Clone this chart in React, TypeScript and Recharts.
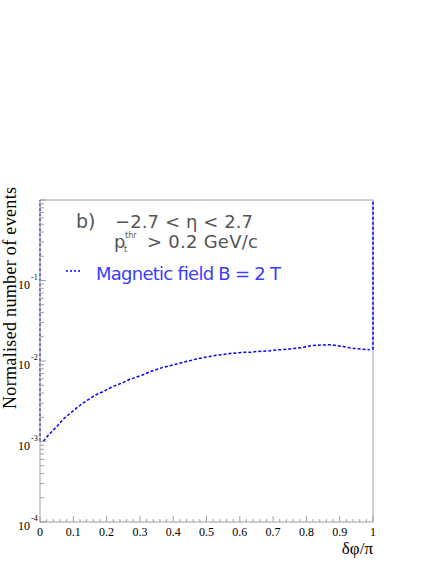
import { LineChart, Line, XAxis, YAxis, ReferenceLine } from "recharts";

// bin centres of the delta-phi/pi histogram (50 bins)
const binCenters = [
  0.01, 0.03, 0.05, 0.07, 0.09, 0.11, 0.13, 0.15, 0.17, 0.19,
  0.21, 0.23, 0.25, 0.27, 0.29, 0.31, 0.33, 0.35, 0.37, 0.39,
  0.41, 0.43, 0.45, 0.47, 0.49, 0.51, 0.53, 0.55, 0.57, 0.59,
  0.61, 0.63, 0.65, 0.67, 0.69, 0.71, 0.73, 0.75, 0.77, 0.79,
  0.81, 0.83, 0.85, 0.87, 0.89, 0.91, 0.93, 0.95, 0.97, 0.99,
];

// normalised number of events, B = 2 T
const events = [
  0.00101, 0.00126, 0.00153, 0.0019, 0.00223, 0.00261, 0.00301, 0.00342, 0.00384, 0.00418,
  0.00462, 0.00503, 0.00541, 0.00593, 0.00633, 0.00676, 0.00736, 0.00784, 0.00835, 0.00874,
  0.00918, 0.00964, 0.0101, 0.0106, 0.011, 0.0114, 0.0118, 0.012, 0.0124, 0.0126,
  0.0128, 0.0128, 0.0131, 0.0132, 0.0134, 0.0137, 0.0139, 0.0141, 0.0144, 0.0147,
  0.0154, 0.0157, 0.0158, 0.0159, 0.0156, 0.0151, 0.0146, 0.0142, 0.014, 0.0138,
];

const xTicks = [
  0, 0.02, 0.04, 0.06, 0.08, 0.1, 0.12, 0.14, 0.16, 0.18, 0.2, 0.22, 0.24, 0.26, 0.28, 0.3,
  0.32, 0.34, 0.36, 0.38, 0.4, 0.42, 0.44, 0.46, 0.48, 0.5, 0.52, 0.54, 0.56, 0.58, 0.6,
  0.62, 0.64, 0.66, 0.68, 0.7, 0.72, 0.74, 0.76, 0.78, 0.8, 0.82, 0.84, 0.86, 0.88, 0.9,
  0.92, 0.94, 0.96, 0.98, 1,
];
const yDecades = [1e-4, 1e-3, 1e-2, 1e-1, 1];
const yMinorSteps = [2, 3, 4, 5, 6, 7, 8, 9];
const yTicks = yDecades.flatMap((d, i) =>
  i < yDecades.length - 1 ? [d, ...yMinorSteps.map((m) => m * d)] : [d]
);

const axisGray = "#a0a0a0";
const serif = "'Liberation Serif', 'DejaVu Serif', serif";
const sans = "'DejaVu Sans', sans-serif";
const textGray = "#555555";
const blue = "#0000ff";

const data = binCenters.map((x, i) => ({ x, events: events[i] }));

function YTick(props: any) {
  const { x, y, payload } = props;
  const v = payload.value as number;
  const lg = Math.log10(v);
  const exp = Math.round(lg);
  const major = Math.abs(lg - exp) < 1e-6;
  return (
    <g>
      <line x1={x} x2={x + (major ? 6 : 4)} y1={y} y2={y} stroke={axisGray} />
      {major && exp < 0 && (
        <>
          <text x={x - 10} y={y + 8} textAnchor="end" fontFamily={serif} fontSize={12} fill="#000">
            10
          </text>
          <text x={x - 9} y={y - 1} fontFamily={serif} fontSize={8} fill="#000">
            {String(exp)}
          </text>
        </>
      )}
    </g>
  );
}

function XTick(props: any) {
  const { x, y, payload } = props;
  const v = payload.value as number;
  const major = Math.abs(v * 10 - Math.round(v * 10)) < 1e-6;
  return (
    <g>
      <line x1={x} x2={x} y1={y} y2={y - (major ? 6 : 3)} stroke={axisGray} />
      {major && (
        <text x={x} y={y + 14} textAnchor="middle" fontFamily={serif} fontSize={12} fill="#000">
          {String(Math.round(v * 10) / 10)}
        </text>
      )}
    </g>
  );
}

export default function App() {
  return (
    <div style={{ position: "absolute", left: 0, top: 0, width: 436, height: 564, background: "#fff" }}>
      <LineChart
        width={436}
        height={564}
        data={data}
        margin={{ top: 200, right: 63, bottom: 0, left: 0 }}
      >
        <XAxis
          dataKey="x"
          type="number"
          domain={[0, 1]}
          ticks={xTicks}
          interval={0}
          tickSize={0}
          tickMargin={0}
          height={42}
          stroke={axisGray}
          tick={<XTick />}
          allowDataOverflow
        />
        <YAxis
          type="number"
          scale="log"
          domain={[1e-4, 1]}
          ticks={yTicks}
          interval={0}
          tickSize={0}
          tickMargin={0}
          width={40}
          stroke={axisGray}
          tick={<YTick />}
          allowDataOverflow
        />
        <ReferenceLine y={1} stroke={axisGray} />
        <ReferenceLine x={1} stroke={axisGray} />
        <ReferenceLine
          segment={[{ x: 0, y: events[0] }, { x: 0, y: 1 }]}
          stroke={blue}
          strokeWidth={1.5}
          strokeDasharray="3 2"
        />
        <ReferenceLine
          segment={[{ x: 1, y: events[events.length - 1] }, { x: 1, y: 1 }]}
          stroke={blue}
          strokeWidth={1.5}
          strokeDasharray="3 2"
        />
        <Line
          dataKey="events"
          type="linear"
          stroke={blue}
          strokeWidth={1.5}
          strokeDasharray="3 2"
          dot={false}
          isAnimationActive={false}
        />
      </LineChart>
      <svg
        width={436}
        height={564}
        style={{ position: "absolute", left: 0, top: 0, pointerEvents: "none" }}
      >
        <text
          x={16}
          y={298}
          transform="rotate(-90, 16, 298)"
          textAnchor="middle"
          fontFamily={serif}
          fontSize={18}
          fill="#000"
          textLength={222}
          lengthAdjust="spacing"
        >
          Normalised number of events
        </text>
        <text x={373} y={554} textAnchor="end" fontFamily={serif} fontSize={17} fill="#000">
          δφ/π
        </text>
        <text x={76} y={228} fontFamily={sans} fontSize={19} fill={textGray}>
          b)
        </text>
        <text x={115} y={228} fontFamily={sans} fontSize={18} fill={textGray} textLength={138} lengthAdjust="spacing">
          −2.7 &lt; η &lt; 2.7
        </text>
        <text x={114} y={248} fontFamily={sans} fontSize={18} fill={textGray}>
          p
        </text>
        <text x={124} y={252} fontFamily={sans} fontSize={8} fill={textGray}>
          t
        </text>
        <text x={125} y={238} fontFamily={sans} fontSize={8} fill={textGray}>
          thr
        </text>
        <text x={147} y={248} fontFamily={sans} fontSize={18} fill={textGray} textLength={111} lengthAdjust="spacing">
          &gt; 0.2 GeV/c
        </text>
        <line x1={66} x2={80} y1={271} y2={271} stroke={blue} strokeWidth={1.5} strokeDasharray="2 2" />
        <text x={96} y={280} fontFamily={sans} fontSize={18} fill="#3c3cff" textLength={185} lengthAdjust="spacing">
          Magnetic field B = 2 T
        </text>
      </svg>
    </div>
  );
}
